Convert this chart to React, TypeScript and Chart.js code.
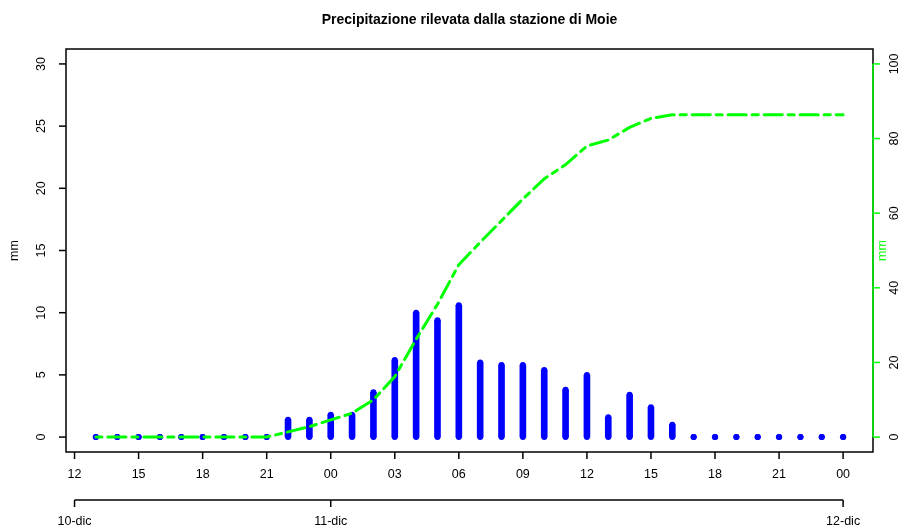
import { useEffect, useRef } from "react";
import { Chart, registerables } from "chart.js";

Chart.register(...registerables);

// Hours counted from 10-dic 00:00 (13 = 10-dic 13:00, 48 = 12-dic 00:00)
const hours = [
  13, 14, 15, 16, 17, 18, 19, 20, 21, 22, 23, 24,
  25, 26, 27, 28, 29, 30, 31, 32, 33, 34, 35, 36,
  37, 38, 39, 40, 41, 42, 43, 44, 45, 46, 47, 48,
];

// Hourly rain (mm), left axis
const hourlyRain = [
  0, 0, 0, 0, 0, 0, 0, 0, 0, 1.4, 1.4, 1.8,
  1.8, 3.6, 6.2, 10.0, 9.4, 10.6, 6.0, 5.8, 5.8, 5.4, 3.8, 5.0,
  1.6, 3.4, 2.4, 1.0, 0, 0, 0, 0, 0, 0, 0, 0,
];

// Cumulative rain (mm), right axis
const cumulativeRain = [
  0, 0, 0, 0, 0, 0, 0, 0, 0, 1.4, 2.8, 4.6,
  6.4, 10.0, 16.2, 26.2, 35.6, 46.2, 52.2, 58.0, 63.8, 69.2, 73.0, 78.0,
  79.6, 83.0, 85.4, 86.4, 86.4, 86.4, 86.4, 86.4, 86.4, 86.4, 86.4, 86.4,
];

const hourTicks = [12, 15, 18, 21, 24, 27, 30, 33, 36, 39, 42, 45, 48];
const hourTickLabels = ["12", "15", "18", "21", "00", "03", "06", "09", "12", "15", "18", "21", "00"];
const dayTicks = [12, 24, 48];
const dayTickLabels = ["10-dic", "11-dic", "12-dic"];
const leftTicks = [0, 5, 10, 15, 20, 25, 30];
const rightTicks = [0, 20, 40, 60, 80, 100];
const titleText = "Precipitazione rilevata dalla stazione di Moie";
const leftAxisTitle = "mm";
const rightAxisTitle = "mm";

const FONT = "'Liberation Sans', Arial, Helvetica, sans-serif";
const BLUE = "#0000FF";
const GREEN = "#00FF00";

const rAxesPlugin = {
  id: "rAxes",
  afterDraw(chart: any) {
    const { ctx, chartArea: a, scales } = chart;
    const x = scales.x;
    const y = scales.y;
    const y2 = scales.y2;
    const tick = 7;
    ctx.save();

    // box
    ctx.strokeStyle = "#000";
    ctx.lineWidth = 1.5;
    ctx.strokeRect(a.left, a.top, a.right - a.left, a.bottom - a.top);

    ctx.fillStyle = "#000";
    ctx.font = `12.5px ${FONT}`;
    ctx.textAlign = "center";
    ctx.textBaseline = "middle";

    // left axis
    for (const v of leftTicks) {
      const py = y.getPixelForValue(v);
      ctx.beginPath();
      ctx.moveTo(a.left, py);
      ctx.lineTo(a.left - tick, py);
      ctx.stroke();
      ctx.save();
      ctx.translate(42, py);
      ctx.rotate(-Math.PI / 2);
      ctx.fillText(String(v), 0, 0);
      ctx.restore();
    }
    ctx.save();
    ctx.translate(15, (a.top + a.bottom) / 2);
    ctx.rotate(-Math.PI / 2);
    ctx.fillText(leftAxisTitle, 0, 0);
    ctx.restore();

    // right axis (green)
    ctx.strokeStyle = GREEN;
    ctx.beginPath();
    ctx.moveTo(a.right, y2.getPixelForValue(rightTicks[0]));
    ctx.lineTo(a.right, y2.getPixelForValue(rightTicks[rightTicks.length - 1]));
    ctx.stroke();
    for (const v of rightTicks) {
      const py = y2.getPixelForValue(v);
      ctx.beginPath();
      ctx.moveTo(a.right, py);
      ctx.lineTo(a.right + tick, py);
      ctx.stroke();
      ctx.save();
      ctx.translate(895, py);
      ctx.rotate(-Math.PI / 2);
      ctx.fillStyle = "#000";
      ctx.fillText(String(v), 0, 0);
      ctx.restore();
    }
    ctx.save();
    ctx.translate(883, (a.top + a.bottom) / 2);
    ctx.rotate(-Math.PI / 2);
    ctx.fillStyle = GREEN;
    ctx.fillText(rightAxisTitle, 0, 0);
    ctx.restore();

    // bottom hour axis
    ctx.strokeStyle = "#000";
    hourTicks.forEach((h, i) => {
      const px = x.getPixelForValue(h);
      ctx.beginPath();
      ctx.moveTo(px, a.bottom);
      ctx.lineTo(px, a.bottom + tick);
      ctx.stroke();
      ctx.fillText(hourTickLabels[i], px, 475);
    });

    // day axis
    const dayY = 500;
    ctx.beginPath();
    ctx.moveTo(x.getPixelForValue(dayTicks[0]), dayY);
    ctx.lineTo(x.getPixelForValue(dayTicks[dayTicks.length - 1]), dayY);
    ctx.stroke();
    dayTicks.forEach((h, i) => {
      const px = x.getPixelForValue(h);
      ctx.beginPath();
      ctx.moveTo(px, dayY);
      ctx.lineTo(px, dayY + tick);
      ctx.stroke();
      ctx.fillText(dayTickLabels[i], px, 522);
    });

    // title
    ctx.font = `bold 14px ${FONT}`;
    ctx.fillText(titleText, (a.left + a.right) / 2, 20);

    ctx.restore();
  },
};

export default function App() {
  const canvasRef = useRef<HTMLCanvasElement | null>(null);

  useEffect(() => {
    document.body.style.margin = "0";
    const canvas = canvasRef.current;
    if (!canvas) return;

    const barData = hours.map((h, i) => ({ x: h, y: hourlyRain[i] }));
    const baseData = hours.map((h) => ({ x: h, y: 0 }));
    const cumData = hours.map((h, i) => ({ x: h, y: cumulativeRain[i] }));

    const chart = new Chart(canvas, {
      type: "bar",
      data: {
        datasets: [
          {
            type: "line",
            data: cumData,
            yAxisID: "y2",
            borderColor: GREEN,
            borderWidth: 3,
            borderDash: [6, 6, 18, 6],
            borderCapStyle: "round",
            borderJoinStyle: "round",
            pointRadius: 0,
            tension: 0,
            fill: false,
            order: 0,
          } as any,
          {
            type: "line",
            data: barData,
            yAxisID: "y",
            showLine: false,
            pointRadius: 3,
            pointBackgroundColor: BLUE,
            pointBorderWidth: 0,
            order: 1,
          } as any,
          {
            type: "line",
            data: baseData,
            yAxisID: "y",
            showLine: false,
            pointRadius: 3,
            pointBackgroundColor: BLUE,
            pointBorderWidth: 0,
            order: 1,
          } as any,
          {
            type: "bar",
            data: barData,
            yAxisID: "y",
            backgroundColor: BLUE,
            borderWidth: 0,
            barThickness: 6,
            order: 2,
          } as any,
        ],
      },
      options: {
        responsive: false,
        animation: false,
        devicePixelRatio: 1,
        events: [],
        layout: { padding: { left: 66, right: 31, top: 49, bottom: 77 } },
        plugins: {
          legend: { display: false },
          tooltip: { enabled: false },
          title: { display: false },
        },
        scales: {
          x: { type: "linear", display: false, min: 11.6, max: 49.4, offset: false },
          y: { type: "linear", display: false, min: -1.2, max: 31.2 },
          y2: { type: "linear", display: false, min: -4, max: 104, position: "right" },
        },
      } as any,
      plugins: [rAxesPlugin],
    });

    return () => chart.destroy();
  }, []);

  return (
    <div style={{ width: 904, height: 529 }}>
      <canvas ref={canvasRef} width={904} height={529} />
    </div>
  );
}
